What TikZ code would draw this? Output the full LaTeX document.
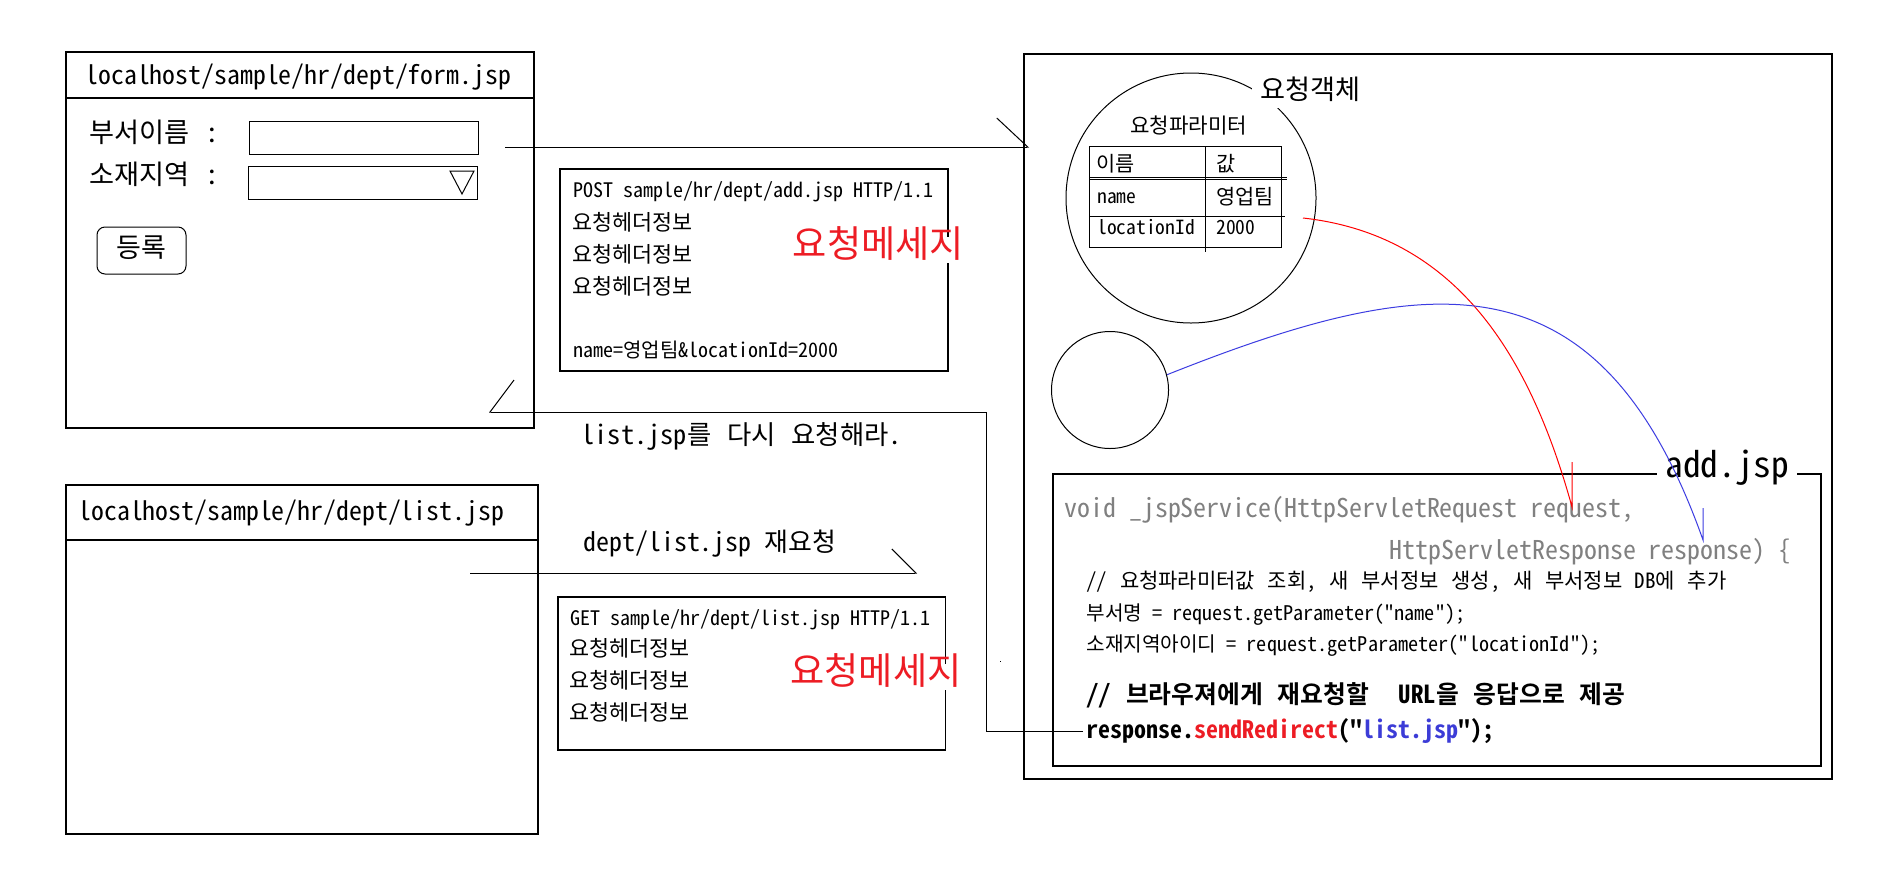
\documentclass[tikz,border=0pt]{standalone}
\usepackage{fontspec}
\setmainfont{Noto Sans Mono CJK KR}
\newfontfamily\msgfont{Noto Sans CJK KR}
\usetikzlibrary{arrows.meta}
\newcommand{\fsz}[1]{\fontsize{#1}{#1}\selectfont}
\newcommand{\qt}{\textquotedbl}
\definecolor{msgred}{RGB}{237,28,36}
\definecolor{codeblue}{RGB}{60,60,215}
\definecolor{codegray}{RGB}{128,128,128}
\definecolor{lnblue}{RGB}{60,60,225}

\begin{document}
\begin{tikzpicture}[x=0.5pt, y=-0.5pt,
  box/.style={draw, line width=0.6pt},
  thinbox/.style={draw, line width=0.5pt},
  txt/.style={anchor=west, inner sep=0pt, text height=0.74em, text depth=0pt},
  wide/.style={execute at begin node={\spaceskip=0.6em\relax}},
  btn/.style={draw, line width=0.5pt, rounded corners=4pt, text height=0.74em, text depth=0pt},
  redlbl/.style={font=\msgfont\fsz{18.6}, text=msgred, fill=white, inner sep=3pt, text height=0.74em, text depth=0pt},
  cut/.style={fill=white, inner sep=4pt},
  harpA/.style={line width=0.5pt, -{Straight Barb[left, length=15.5pt, width=29pt]}},
  harpB/.style={line width=0.5pt, -{Straight Barb[right, length=12pt, width=32pt]}},
  harpC/.style={line width=0.5pt, -{Straight Barb[left, length=12pt, width=24pt]}},
  reqline/.style={draw=red, line width=0.5pt},
  respline/.style={draw=lnblue, line width=0.5pt}]
  \useasboundingbox (0,0) rectangle (1898,868);
  \fill[white] (0,0) rectangle (1898,868);
  % form.jsp window
  \draw[box] (66,52) rectangle (534,428);
  \draw[box] (66,98) -- (534,98);
  \node[txt, font=\fsz{12.9}] (formurl) at (85,77.5) {localhost/sample/hr/dept/form.jsp};
  \node[txt, wide, font=\fsz{13.6}] (namelbl) at (89,135.5) {부서이름 :};
  \node[txt, wide, font=\fsz{13.6}] (loclbl) at (89,177) {소재지역 :};
  \draw[thinbox] (249,121) rectangle (478,154);
  \draw[thinbox] (248,166) rectangle (477,199);
  \draw[thinbox] (450,171) -- (474,171) -- (462,194) -- cycle;
  \node[btn, minimum width=44.5pt, minimum height=23.5pt, font=\fsz{13.5}] (regbtn) at (141.5,250.5) {등록};
  % POST request message
  \draw[box] (560,169) rectangle (948,371);
  \node[txt, font=\fsz{10}] (postline) at (573,190.5) {POST sample/hr/dept/add.jsp HTTP/1.1};
  \foreach \i in {1,2,3} {\node[txt, font=\fsz{10.9}] (posthdr\i) at (572,191+32*\i) {요청헤더정보};}
  \node[txt, font=\fsz{10}] (postbody) at (573,350.5) {name=영업팀\&locationId=2000};
  \node[redlbl] (postmsg) at (878.5,250) {요청메세지};
  \node[txt, wide, font=\fsz{13.2}] (againlbl) at (581,437) {list.jsp를 다시 요청해라.};
  % list.jsp window
  \draw[box] (66,485) rectangle (538,834);
  \draw[box] (66,540) -- (538,540);
  \node[txt, font=\fsz{12.9}] (listurl) at (78,513) {localhost/sample/hr/dept/list.jsp};
  \node[txt, font=\fsz{12.95}] (relbl) at (583,544.5) {dept/list.jsp 재요청};
  % GET request message
  \draw[box] (558,597) rectangle (945.5,750);
  \node[txt, font=\fsz{10}] (getline) at (570,618) {GET sample/hr/dept/list.jsp HTTP/1.1};
  \foreach \i in {1,2,3} {\node[txt, font=\fsz{10.9}] (gethdr\i) at (569,617.5+31.8*\i) {요청헤더정보};}
  \node[redlbl] (getmsg) at (876,677) {요청메세지};
  \fill (999.5,660.5) rectangle (1000.5,661.5);
  % server side
  \draw[box] (1024,54) rectangle (1832,779);
  \node[draw, circle, line width=0.5pt, minimum size=125pt, inner sep=0pt] (reqobj) at (1191,198) {};
  \node[txt, cut, font=\fsz{13.6}] (reqlbl) at (1252,92.3) {요청객체};
  \node[txt, font=\fsz{10.6}] (paramlbl) at (1130,126) {요청파라미터};
  % parameter table
  \draw[thinbox] (1089,146) rectangle (1281,247);
  \draw[thinbox] (1205,146) -- (1205,252);
  \draw[thinbox] (1089,177) -- (1287,177) (1089,179.5) -- (1287,179.5);
  \draw[thinbox] (1089,216) -- (1285,216);
  \node[txt, font=\fsz{10.4}] (colname) at (1096,164) {이름};
  \node[txt, font=\fsz{10.4}] (colval) at (1216,164) {값};
  \node[txt, font=\fsz{9.75}] (pname) at (1097,196) {name};
  \node[txt, font=\fsz{10.4}] (pnameval) at (1216,197) {영업팀};
  \node[txt, font=\fsz{9.75}] (ploc) at (1097,227.5) {locationId};
  \node[txt, font=\fsz{9.75}] (plocval) at (1216,227.5) {2000};
  \node[draw, circle, line width=0.5pt, minimum size=58.5pt, inner sep=0pt] (respobj) at (1110,390) {};
  % add.jsp source
  \draw[box] (1053,474) rectangle (1821,766);
  \node[txt, cut, font=\fsz{17.7}] (addlbl) at (1657,470.5) {add.jsp};
  \node[txt, font=\fsz{12.95}, text=codegray] (sig1) at (1064,510) {void \_jspService(HttpServletRequest request,};
  \node[txt, font=\fsz{12.95}, text=codegray] (sig2) at (1389.5,552) {HttpServletResponse response) \{};
  \node[txt, wide, font=\fsz{10.5}] (cmt1) at (1086,581.5) {// 요청파라미터값 조회, 새 부서정보 생성, 새 부서정보 DB에 추가};
  \node[txt, font=\fsz{10.1}] (getname) at (1086,613) {부서명 = request.getParameter(\qt name\qt);};
  \node[txt, font=\fsz{10.1}] (getloc) at (1086,644.5) {소재지역아이디 = request.getParameter(\qt locationId\qt);};
  \node[txt, wide, font=\bfseries\fsz{12.4}] (cmt2) at (1086,696.5) {// 브라우져에게 재요청할~~URL을 응답으로 제공};
  \node[txt, font=\bfseries\fsz{12}] (redir) at (1086,731.5) {response.\textcolor{msgred}{sendRedirect}(\qt\textcolor{codeblue}{list.jsp}\qt);};
  % connectors
  \coordinate (formout) at (505,147);
  \coordinate (addin) at (1029,147);
  \coordinate (retbend) at (986,412);
  \coordinate (formin) at (489,412);
  \coordinate (listout) at (470,573);
  \coordinate (addin2) at (917,573);
  \coordinate (paramout) at (1303,218);
  \coordinate (reqin) at (1572,507);
  \coordinate (respin) at (1703,540);
  \draw[harpA] (formout) -- (addin);
  \draw[harpB] ([xshift=-1.5pt]redir.west) -| (retbend) -- (formin);
  \draw[harpC] (listout) -- (addin2);
  \draw[reqline] (paramout) .. controls (1456,235) and (1530,355) .. (reqin) -- ++(0,-45);
  \draw[respline] (respobj.15) .. controls (1430,270) and (1600,250) .. (respin) -- ++(0,-32);
\end{tikzpicture}
\end{document}
